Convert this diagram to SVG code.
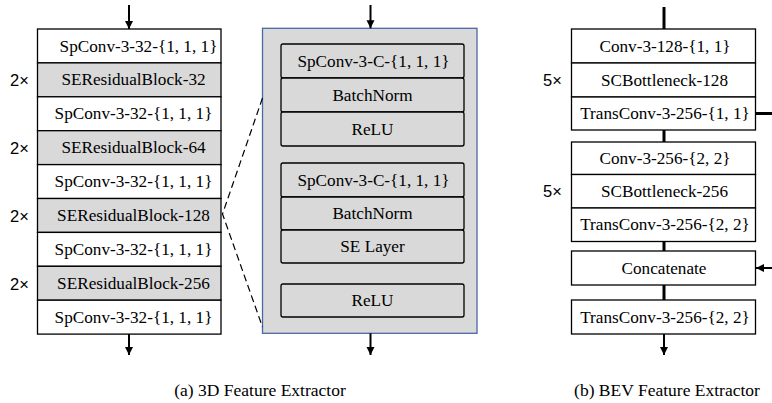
<svg xmlns="http://www.w3.org/2000/svg" width="772" height="403" viewBox="0 0 772 403">
<defs>
<marker id="ah" viewBox="0 0 10 10" refX="10" refY="5" markerWidth="4" markerHeight="4.5" orient="auto" markerUnits="strokeWidth">
<path d="M0,0 L10,5 L0,10 Z" fill="#000"/>
</marker>
<style>
.b{fill:#fff;stroke:#000;stroke-width:1.3}
.g{fill:#d9d9d9;stroke:#000;stroke-width:1.3}
.ig{fill:#d9d9d9;stroke:#000;stroke-width:1.3}
.t{font-family:"Liberation Serif","Times New Roman",serif;font-size:17.2px;fill:#000;text-anchor:middle}
.c{font-family:"Liberation Serif","Times New Roman",serif;font-size:17.5px;fill:#000;text-anchor:middle}
.m{font-family:"Liberation Sans",Arial,sans-serif;font-size:16.5px;fill:#000}
.a{stroke:#000;stroke-width:2;fill:none;marker-end:url(#ah)}
.l{stroke:#000;stroke-width:3;fill:none}
.d{stroke:#000;stroke-width:1.2;fill:none;stroke-dasharray:7,4}
</style>
</defs>

<g id="left">
<g id="l1"><rect class="b" x="37.5" y="29" width="183.5" height="33.9"/><text class="t" x="138.5" y="51.5">SpConv-3-32-{1, 1, 1}</text></g>
<g id="l2"><rect class="g" x="37.5" y="62.9" width="183.5" height="33.9"/><text class="t" x="133.5" y="85.4">SEResidualBlock-32</text></g>
<g id="l3"><rect class="b" x="37.5" y="96.8" width="183.5" height="33.9"/><text class="t" x="133.5" y="119.3">SpConv-3-32-{1, 1, 1}</text></g>
<g id="l4"><rect class="g" x="37.5" y="130.7" width="183.5" height="33.9"/><text class="t" x="133.5" y="153.2">SEResidualBlock-64</text></g>
<g id="l5"><rect class="b" x="37.5" y="164.6" width="183.5" height="33.9"/><text class="t" x="133.5" y="187.1">SpConv-3-32-{1, 1, 1}</text></g>
<g id="l6"><rect class="g" x="37.5" y="198.5" width="183.5" height="33.9"/><text class="t" x="133.5" y="221">SEResidualBlock-128</text></g>
<g id="l7"><rect class="b" x="37.5" y="232.4" width="183.5" height="33.9"/><text class="t" x="133.5" y="254.9">SpConv-3-32-{1, 1, 1}</text></g>
<g id="l8"><rect class="g" x="37.5" y="266.3" width="183.5" height="33.9"/><text class="t" x="133.5" y="288.8">SEResidualBlock-256</text></g>
<g id="l9"><rect class="b" x="37.5" y="300.2" width="183.5" height="33.9"/><text class="t" x="133.5" y="322.7">SpConv-3-32-{1, 1, 1}</text></g>
<text class="m" x="10" y="86">2×</text>
<text class="m" x="10" y="154">2×</text>
<text class="m" x="10" y="222">2×</text>
<text class="m" x="10" y="290">2×</text>
</g>

<g id="middle">
<rect x="262.5" y="28.3" width="214.5" height="305" fill="#d9d9d9" stroke="#4a68a8" stroke-width="1.3"/>
<g id="m1"><rect class="ig" x="281" y="44" width="183" height="34" rx="2"/><text class="t" x="373.5" y="66.5">SpConv-3-C-{1, 1, 1}</text></g>
<g id="m2"><rect class="ig" x="281" y="78" width="183" height="34" rx="2"/><text class="t" x="372.5" y="100.5">BatchNorm</text></g>
<g id="m3"><rect class="ig" x="281" y="112" width="183" height="34" rx="2"/><text class="t" x="372.5" y="134.5">ReLU</text></g>
<g id="m4"><rect class="ig" x="281" y="163" width="183" height="34" rx="2"/><text class="t" x="373.5" y="185.5">SpConv-3-C-{1, 1, 1}</text></g>
<g id="m5"><rect class="ig" x="281" y="197" width="183" height="33" rx="2"/><text class="t" x="372.5" y="219">BatchNorm</text></g>
<g id="m6"><rect class="ig" x="281" y="230" width="183" height="33" rx="2"/><text class="t" x="372.5" y="252">SE Layer</text></g>
<g id="m7"><rect class="ig" x="281" y="284" width="183" height="33" rx="2"/><text class="t" x="372.5" y="306">ReLU</text></g>
</g>

<g id="right">
<g id="r1"><rect class="b" x="571.5" y="29" width="184" height="34"/><text class="t" x="665" y="51.5">Conv-3-128-{1, 1}</text></g>
<g id="r2"><rect class="b" x="571.5" y="63" width="184" height="34"/><text class="t" x="664.5" y="85.5">SCBottleneck-128</text></g>
<g id="r3"><rect class="b" x="571.5" y="97" width="184" height="33"/><text class="t" x="665" y="119">TransConv-3-256-{1, 1}</text></g>
<g id="r4"><rect class="b" x="571.5" y="142" width="184" height="32.5"/><text class="t" x="665" y="163.5">Conv-3-256-{2, 2}</text></g>
<g id="r5"><rect class="b" x="571.5" y="174.5" width="184" height="33.5"/><text class="t" x="664.5" y="196.5">SCBottleneck-256</text></g>
<g id="r6"><rect class="b" x="571.5" y="208" width="184" height="33.5"/><text class="t" x="665" y="230">TransConv-3-256-{2, 2}</text></g>
<g id="r7"><rect class="b" x="571.5" y="251" width="184" height="34"/><text class="t" x="664" y="273.5">Concatenate</text></g>
<g id="r8"><rect class="b" x="571.5" y="300" width="184" height="34"/><text class="t" x="665" y="322.5">TransConv-3-256-{2, 2}</text></g>
<text class="m" x="543" y="86">5×</text>
<text class="m" x="543" y="197">5×</text>
</g>

<g id="connectors">
<line class="a" x1="129" y1="5" x2="129" y2="29"/>
<line class="a" x1="129" y1="334" x2="129" y2="355"/>
<line class="a" x1="370.5" y1="5" x2="370.5" y2="28.3"/>
<line class="a" x1="370.5" y1="333.3" x2="370.5" y2="355"/>
<polyline class="d" points="262.5,98 222.5,214 262.5,327"/>
<line class="l" x1="664" y1="7" x2="664" y2="29"/>
<line class="l" x1="664" y1="130" x2="664" y2="142"/>
<line class="l" x1="664" y1="241.5" x2="664" y2="251"/>
<line class="l" x1="664" y1="285" x2="664" y2="300"/>
<line class="a" x1="664" y1="334" x2="664" y2="355"/>
<line class="l" x1="755.5" y1="113.5" x2="772" y2="113.5"/>
<line class="a" x1="772" y1="268" x2="756" y2="268"/>
</g>

<g id="captions">
<text class="c" x="260" y="396">(a) 3D Feature Extractor</text>
<text class="c" x="667" y="396">(b) BEV Feature Extractor</text>
</g>
</svg>
